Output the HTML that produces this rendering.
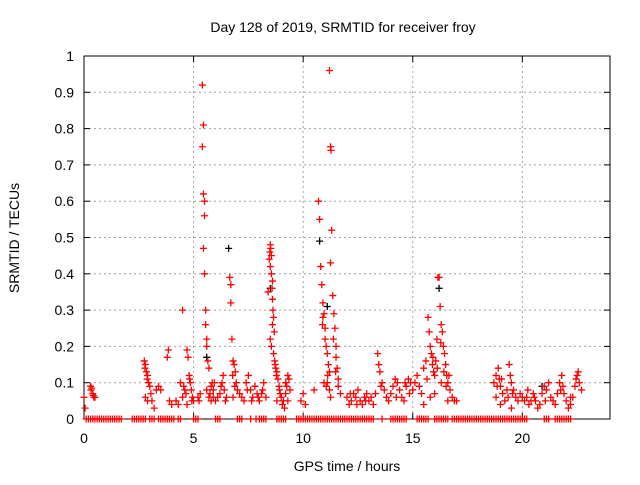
<!DOCTYPE html>
<html><head><meta charset="utf-8"><style>
body{margin:0;background:#fff;}
svg text{font-family:"Liberation Sans",sans-serif;font-size:14px;fill:#000;}
</style></head><body>
<svg id="c" width="640" height="480" xmlns="http://www.w3.org/2000/svg">
<text x="343" y="32" text-anchor="middle">Day 128 of 2019, SRMTID for receiver froy</text>
<text x="347" y="471" text-anchor="middle">GPS time / hours</text>
<text transform="translate(19,238) rotate(-90)" text-anchor="middle">SRMTID / TECUs</text>
<g id="grid"></g>
<g id="axes"></g>
<g id="pts"></g>
</svg>
<script>
const xTicks=[0,5,10,15,20];
const yTicks=[0,0.1,0.2,0.3,0.4,0.5,0.6,0.7,0.8,0.9,1];
const yTickLabels=["0","0.1","0.2","0.3","0.4","0.5","0.6","0.7","0.8","0.9","1"];
const redT=[0.0,0.05,0.3,0.35,0.4,0.45,0.5,0.32,0.42,
2.75,2.8,2.85,2.9,2.95,3.0,2.8,2.9,3.1,3.2,3.3,3.4,3.5,2.78,2.88,3.05,
3.8,3.85,3.9,4.0,4.2,4.3,4.5,4.4,4.6,4.5,4.7,4.75,4.8,4.85,4.9,4.95,5.0,4.7,4.55,4.65,4.82,4.92,
5.2,5.25,5.3,5.4,5.45,5.4,5.45,5.5,5.5,5.45,5.5,5.55,5.55,5.6,5.6,5.65,5.7,5.6,5.7,5.8,5.85,5.9,5.8,5.9,5.75,5.95,
6.0,6.1,6.2,6.3,6.35,6.4,6.5,6.65,6.7,6.7,6.75,6.8,6.85,6.9,6.95,7.0,6.8,7.1,7.2,7.3,6.25,6.45,6.78,6.88,
7.4,7.5,7.6,7.7,7.8,7.9,8.0,8.1,8.2,8.3,7.45,7.65,7.95,8.15,
8.4,8.45,8.5,8.52,8.55,8.5,8.55,8.6,8.6,8.65,8.6,8.5,8.55,8.65,8.7,8.75,8.8,8.85,8.9,8.95,9.0,8.8,9.1,9.15,9.2,9.3,9.35,9.4,9.2,9.3,8.48,8.58,8.62,8.68,8.72,8.78,8.92,9.05,9.25,
9.9,10.0,10.1,10.5,10.7,10.75,10.8,10.85,10.9,10.95,10.9,11.0,11.0,11.05,11.1,11.15,11.2,11.1,11.2,11.25,11.2,11.25,11.27,11.3,11.25,11.35,11.4,11.45,11.5,11.5,11.55,11.6,11.6,11.7,10.95,11.05,10.88,11.12,11.38,11.48,
12.0,12.1,12.2,12.3,12.4,12.5,12.6,12.7,12.8,12.9,13.0,13.1,13.2,13.3,13.4,13.45,13.5,13.6,13.7,13.8,13.9,14.0,14.1,14.2,14.3,14.4,14.5,14.6,14.7,14.8,14.9,15.0,12.15,12.45,12.85,13.55,14.25,14.65,14.85,
15.1,15.2,15.3,15.4,15.5,15.6,15.7,15.75,15.8,15.85,15.9,15.95,16.0,16.05,16.1,16.15,16.2,16.25,16.3,16.35,16.4,16.45,16.5,16.55,16.6,16.7,16.8,16.9,17.0,15.8,16.0,16.3,16.6,15.5,15.65,15.92,16.12,16.28,16.42,16.52,16.65,
18.7,18.8,18.9,18.95,19.0,19.1,19.2,19.3,19.4,19.45,19.5,19.6,19.7,19.8,19.9,20.0,18.8,19.0,19.5,18.85,19.05,19.35,19.55,
20.1,20.2,20.3,20.4,20.5,20.6,20.7,20.8,20.9,21.0,21.1,21.2,21.3,21.4,21.5,21.6,21.7,21.8,21.85,21.9,22.0,22.1,22.2,22.3,22.4,22.5,22.55,22.6,22.7,22.2,20.25,20.55,21.05,21.75,22.45];
const redV=[0.06,0.03,0.09,0.085,0.07,0.06,0.06,0.08,0.065,
0.16,0.15,0.13,0.12,0.1,0.09,0.06,0.05,0.05,0.03,0.08,0.09,0.08,0.14,0.11,0.07,
0.17,0.19,0.05,0.04,0.05,0.04,0.3,0.1,0.08,0.06,0.19,0.17,0.12,0.1,0.08,0.06,0.05,0.04,0.09,0.07,0.11,0.05,
0.06,0.05,0.07,0.92,0.81,0.75,0.62,0.6,0.56,0.47,0.4,0.3,0.26,0.22,0.2,0.16,0.14,0.08,0.06,0.09,0.1,0.08,0.05,0.06,0.07,0.1,
0.05,0.06,0.07,0.1,0.12,0.08,0.06,0.39,0.37,0.32,0.22,0.16,0.15,0.13,0.1,0.08,0.06,0.07,0.06,0.05,0.09,0.05,0.12,0.09,
0.1,0.12,0.08,0.06,0.09,0.07,0.05,0.07,0.1,0.06,0.08,0.05,0.06,0.08,
0.35,0.44,0.48,0.47,0.45,0.42,0.4,0.38,0.33,0.28,0.26,0.22,0.2,0.18,0.16,0.14,0.13,0.11,0.09,0.07,0.06,0.05,0.05,0.03,0.1,0.12,0.11,0.08,0.07,0.05,0.46,0.36,0.3,0.24,0.15,0.12,0.08,0.04,0.09,
0.05,0.07,0.04,0.08,0.6,0.55,0.42,0.37,0.32,0.29,0.28,0.25,0.22,0.2,0.18,0.15,0.13,0.1,0.08,0.06,0.96,0.75,0.74,0.52,0.43,0.34,0.29,0.25,0.2,0.17,0.14,0.11,0.09,0.07,0.1,0.09,0.26,0.12,0.22,0.13,
0.06,0.04,0.05,0.07,0.06,0.08,0.05,0.04,0.06,0.07,0.05,0.06,0.04,0.07,0.18,0.15,0.13,0.1,0.08,0.06,0.05,0.07,0.09,0.11,0.1,0.08,0.06,0.05,0.09,0.11,0.1,0.08,0.07,0.04,0.05,0.09,0.06,0.1,0.07,
0.1,0.12,0.09,0.07,0.14,0.16,0.28,0.24,0.2,0.18,0.15,0.13,0.12,0.16,0.22,0.39,0.39,0.31,0.26,0.24,0.2,0.18,0.15,0.12,0.1,0.08,0.06,0.05,0.05,0.06,0.07,0.1,0.05,0.04,0.11,0.17,0.14,0.21,0.13,0.09,0.12,
0.1,0.12,0.14,0.11,0.09,0.07,0.05,0.08,0.15,0.12,0.1,0.08,0.06,0.05,0.07,0.06,0.06,0.04,0.03,0.09,0.11,0.06,0.07,
0.05,0.06,0.04,0.05,0.07,0.05,0.03,0.04,0.07,0.09,0.08,0.1,0.06,0.05,0.04,0.07,0.1,0.12,0.09,0.07,0.05,0.03,0.04,0.06,0.09,0.12,0.13,0.1,0.08,0.06,0.08,0.06,0.05,0.08,0.11];
const zeroT=[0.1,0.2,0.3,0.4,0.5,0.6,0.7,0.8,0.9,1.0,1.1,1.2,1.3,1.4,1.5,1.6,1.7,2.2,2.3,2.4,2.5,2.6,2.7,2.8,3.0,3.1,3.2,3.4,3.5,3.6,3.7,3.8,3.9,4.0,4.1,4.3,4.4,5.0,5.1,5.2,6.0,6.1,6.2,7.0,7.1,7.2,7.6,7.85,8.0,8.1,8.2,8.3,8.8,8.9,9.0,9.1,9.2,9.7,9.8,9.9,10.0,10.1,10.2,10.3,10.4,10.5,10.6,10.7,10.8,10.9,11.0,11.1,11.2,11.3,11.4,11.5,11.6,11.7,11.8,11.9,12.0,12.1,12.2,12.3,12.4,12.5,12.6,12.7,12.8,12.9,13.0,13.1,13.2,13.6,14.0,14.1,14.2,14.3,14.4,14.5,14.6,14.7,15.2,15.3,15.4,15.5,15.6,15.7,16.0,16.1,16.2,16.3,16.4,16.5,16.6,16.8,16.9,17.0,17.1,17.2,17.3,17.4,17.5,17.6,17.7,17.8,17.9,18.0,18.1,18.2,18.3,18.4,18.5,18.6,18.7,18.8,18.9,19.0,19.1,19.2,19.3,19.4,19.5,19.6,19.7,19.8,19.9,20.0,20.1,20.2,21.0,21.1,21.2,21.5,21.6,21.7,21.8,21.9,22.0,22.1,22.2];
const blackT=[6.6,10.75,16.2,20.9,8.5,5.6,11.1];
const blackV=[0.47,0.49,0.36,0.09,0.36,0.17,0.31];
const L=84,R=610,T=56,B=419,XMAX=24;
const sx=t=>L+t/XMAX*(R-L), sy=v=>B-v*(B-T);
const NS="http://www.w3.org/2000/svg";
function mk(tag,attrs,parent){const e=document.createElementNS(NS,tag);for(const k in attrs)e.setAttribute(k,attrs[k]);parent.appendChild(e);return e;}
const grid=document.getElementById('grid'),axes=document.getElementById('axes'),pts=document.getElementById('pts');
yTicks.forEach((v,i)=>{const y=sy(v);
 if(i>0&&i<yTicks.length-1){const g=mk('line',{x1:L,x2:R,y1:y,y2:y,stroke:'#a0a0a0','stroke-dasharray':'2,3'},grid);
 
 }
 mk('line',{x1:L,x2:L+6,y1:y,y2:y,stroke:'#000'},axes);
 mk('line',{x1:R,x2:R-6,y1:y,y2:y,stroke:'#000'},axes);
 const t=mk('text',{x:L-10,y:y+5,'text-anchor':'end'},axes);t.textContent=yTickLabels[i];
 
 });
xTicks.forEach(v=>{const x=sx(v);
 if(v>0){const g=mk('line',{x1:x,x2:x,y1:T,y2:B,stroke:'#a0a0a0','stroke-dasharray':'2,3'},grid);
 
 }
 mk('line',{x1:x,x2:x,y1:B,y2:B-6,stroke:'#000'},axes);
 mk('line',{x1:x,x2:x,y1:T,y2:T+6,stroke:'#000'},axes);
 const t=mk('text',{x:x,y:B+24,'text-anchor':'middle'},axes);t.textContent=String(v);
 
 });
mk('rect',{x:L,y:T,width:R-L,height:B-T,fill:'none',stroke:'#000'},axes);
function plus(t,v,col){const x=sx(t),y=sy(v);
 const p=mk('path',{d:`M${x-3.5},${y}h7M${x},${y-3.5}v7`,stroke:col,'stroke-width':1.3,fill:'none'},pts);
 
 }
blackT.forEach((t,i)=>plus(t,blackV[i],'#000'));
redT.forEach((t,i)=>plus(t,redV[i],'#ff0000'));
zeroT.forEach(t=>plus(t,0,'#ff0000'));
</script>
</body></html>
